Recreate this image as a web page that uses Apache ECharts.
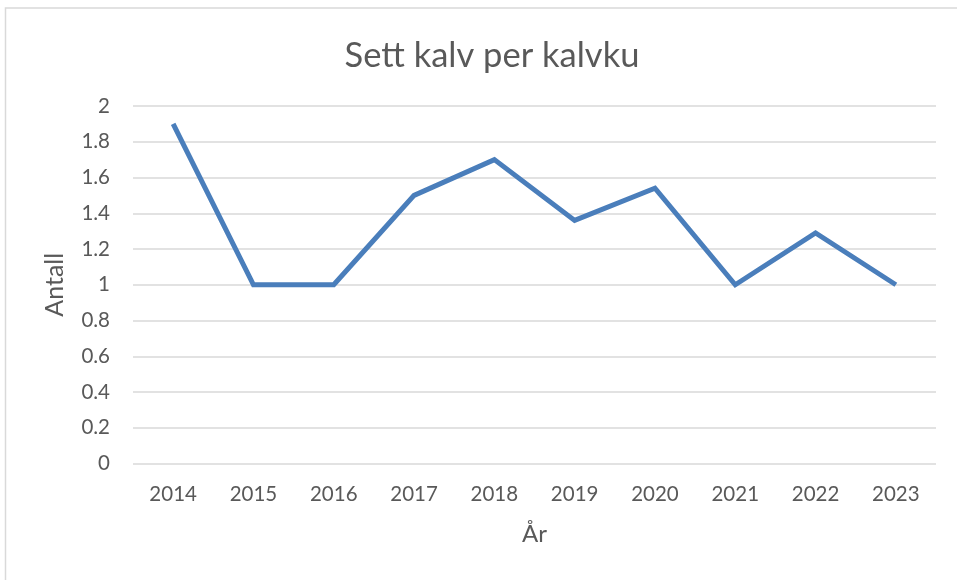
<!DOCTYPE html>
<html>
<head>
<meta charset="utf-8">
<script src="https://cdn.jsdelivr.net/npm/echarts@6/dist/echarts.min.js"></script>
<style>
  html, body { margin: 0; padding: 0; background: #fff; }
  #chart { width: 957px; height: 580px; }
</style>
</head>
<body>
<div id="chart"></div>
<script>
const years = ['2014', '2015', '2016', '2017', '2018', '2019', '2020', '2021', '2022', '2023'];
const calvesPerCow = [1.9, 1.0, 1.0, 1.5, 1.7, 1.36, 1.54, 1.0, 1.29, 1.0];
const yTicks = [0, 0.2, 0.4, 0.6, 0.8, 1, 1.2, 1.4, 1.6, 1.8, 2];

const textColor = '#595959';
const fontFamily = 'Lato, "Open Sans", sans-serif';

const chart = echarts.init(document.getElementById('chart'));
chart.setOption({
  backgroundColor: '#fff',
  animation: false,
  textStyle: { fontFamily: fontFamily },
  title: {
    text: 'Sett kalv per kalvku',
    left: 487,
    top: 33,
    textAlign: 'center',
    textStyle: { color: textColor, fontSize: 34.5, fontWeight: 'normal', fontFamily: fontFamily }
  },
  graphic: [
    {
      type: 'rect',
      shape: { x: 5.5, y: 8, width: 1000, height: 1000 },
      style: { fill: 'none', stroke: '#d9d9d9', lineWidth: 1.5 },
      silent: true
    }
  ],
  grid: { left: 133, right: 21, top: 106, bottom: 116.5 },
  xAxis: {
    type: 'category',
    data: years,
    boundaryGap: true,
    name: 'År',
    nameLocation: 'middle',
    nameGap: 59,
    nameTextStyle: { color: textColor, fontSize: 24, fontFamily: fontFamily },
    axisLine: { show: false },
    axisTick: { show: false },
    axisLabel: { color: textColor, fontSize: 20.5, margin: 20 }
  },
  yAxis: {
    type: 'value',
    min: yTicks[0],
    max: yTicks[yTicks.length - 1],
    interval: 0.2,
    name: 'Antall',
    nameLocation: 'middle',
    nameGap: 66,
    nameTextStyle: { color: textColor, fontSize: 25, fontFamily: fontFamily },
    axisLine: { show: false },
    axisTick: { show: false },
    axisLabel: {
      color: textColor,
      fontSize: 20.5,
      margin: 23,
      padding: [10, 0, 0, 0],
      formatter: v => String(Math.round(v * 10) / 10)
    },
    splitLine: { lineStyle: { color: '#d9d9d9', width: 1.5 } }
  },
  series: [
    {
      type: 'line',
      data: calvesPerCow,
      showSymbol: false,
      lineStyle: { color: '#4a7ebb', width: 5, join: 'miter' },
      itemStyle: { color: '#4a7ebb' }
    }
  ]
});
</script>
</body>
</html>
